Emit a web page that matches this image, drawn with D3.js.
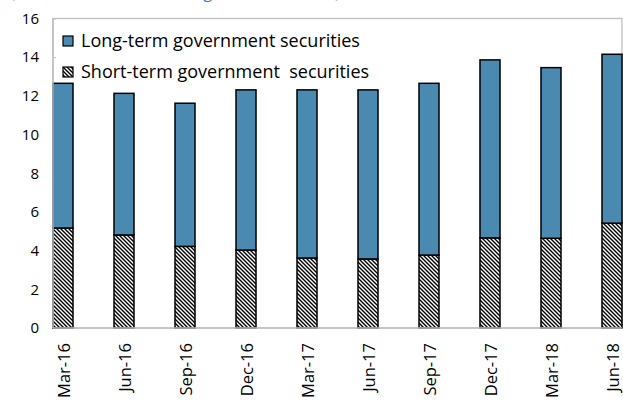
<!DOCTYPE html>
<html><head><meta charset="utf-8">
<script src="https://cdn.jsdelivr.net/npm/d3@7"></script>
<style>body{margin:0;background:#fff}svg{display:block}text{font-family:"Open Sans","Noto Sans",sans-serif;white-space:pre}</style>
</head><body>
<script>
const categories = ["Mar-16","Jun-16","Sep-16","Dec-16","Mar-17","Jun-17","Sep-17","Dec-17","Mar-18","Jun-18"];
const shortTerm = [5.17, 4.81, 4.22, 4.03, 3.62, 3.57, 3.77, 4.66, 4.64, 5.42];
const longTerm  = [7.48, 7.32, 7.40, 8.28, 8.69, 8.74, 8.88, 9.20, 8.82, 8.73];
const yTicks = [0,2,4,6,8,10,12,14,16];
const seriesNames = ["Long-term government securities","Short-term government  securities"];
const titleText = "(Debt securities held, long and short-term)";

const W = 623, H = 403;
const m = {left:53, top:18.5, right:1, bottom:75};
const svg = d3.select("body").append("svg").attr("width",W).attr("height",H);
const defs = svg.append("defs");
const hp = defs.append("pattern").attr("id","hatch").attr("patternUnits","userSpaceOnUse")
  .attr("width",4).attr("height",4);
hp.append("rect").attr("width",4).attr("height",4).attr("fill","#fff");
hp.append("path").attr("d","M-1,-1 L5,5 M-1,3 L1,5 M3,-1 L5,1").attr("stroke","#000").attr("stroke-width",1.4);

const x = d3.scaleBand().domain(categories).range([m.left, W-m.right]).paddingInner(0.672).paddingOuter(0);
const y = d3.scaleLinear().domain([0,16]).range([H-m.bottom, m.top]);

// title (clipped at top, as in the reference)
svg.append("text").attr("x",10).attr("y",-2).attr("font-size",16).attr("fill","#3b7fc0")
  .attr("textLength",330).attr("lengthAdjust","spacingAndGlyphs").text(titleText);

// plot border
svg.append("rect").attr("x",m.left).attr("y",y(16)).attr("width",W-m.right-m.left).attr("height",y(0)-y(16))
  .attr("fill","none").attr("stroke","#bfbfbf").attr("stroke-width",1.3);

// y axis ticks
const ya = svg.append("g").attr("transform",`translate(${m.left},0)`)
  .call(d3.axisRight(y).tickValues(yTicks).tickSize(3).tickFormat(""));
ya.select(".domain").remove();
ya.selectAll("line").attr("stroke","#bfbfbf");
svg.append("g").selectAll("text").data(yTicks).join("text")
  .attr("x",39).attr("y",d=>y(d)).attr("dy","0.35em").attr("text-anchor","end")
  .attr("font-size",15).attr("fill","#000").text(d=>d);

// bars
const g = svg.append("g");
categories.forEach((c,i)=>{
  g.append("rect").attr("x",x(c)).attr("width",x.bandwidth())
    .attr("y",y(shortTerm[i])).attr("height",y(0)-y(shortTerm[i]))
    .attr("fill","url(#hatch)").attr("stroke","#000").attr("stroke-width",1.5);
  g.append("rect").attr("x",x(c)).attr("width",x.bandwidth())
    .attr("y",y(shortTerm[i]+longTerm[i])).attr("height",y(shortTerm[i])-y(shortTerm[i]+longTerm[i]))
    .attr("fill","#4a8ab0").attr("stroke","#000").attr("stroke-width",1.5);
});

// axis lines
svg.append("line").attr("x1",m.left).attr("x2",W-m.right).attr("y1",y(0)).attr("y2",y(0))
  .attr("stroke","#bfbfbf").attr("stroke-width",1.5);
svg.append("line").attr("x1",m.left).attr("x2",m.left).attr("y1",y(0)).attr("y2",y(16))
  .attr("stroke","#bfbfbf").attr("stroke-width",1.5);

// x labels
svg.append("g").selectAll("text").data(categories).join("text")
  .attr("transform",d=>`translate(${x(d)+x.bandwidth()/2+1},${y(0)+15}) rotate(-90)`)
  .attr("text-anchor","end").attr("dy","0.35em").attr("font-size",16.5).attr("fill","#000").text(d=>d);

// legend
const lg = svg.append("g");
const lItems = [{fill:"#4a8ab0", y:41},{fill:"url(#hatch)", y:72}];
lItems.forEach((it,i)=>{
  lg.append("rect").attr("x",63).attr("y",it.y-5).attr("width",10).attr("height",10)
    .attr("fill",it.fill).attr("stroke","#000").attr("stroke-width",1.2);
  lg.append("text").attr("x",81).attr("y",it.y).attr("dy","0.35em").attr("font-size",18).attr("fill","#000").text(seriesNames[i]);
});
</script>
</body></html>
